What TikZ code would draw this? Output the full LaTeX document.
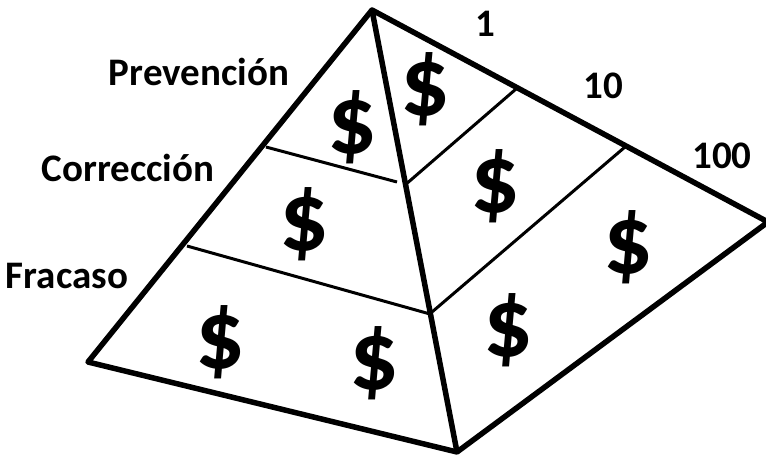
\documentclass[tikz,border=0pt]{standalone}
\usepackage{fontspec}
\setmainfont{Carlito}
\usetikzlibrary{positioning}
\tikzset{
  outline/.style={line width=5.5pt, line join=round},
  divider/.style={line width=3pt},
  lbl/.style={font=\fontsize{39}{39}\selectfont\bfseries},
  dollar/.style={font=\fontsize{98}{98}\selectfont\bfseries, inner sep=0pt}
}
\begin{document}
\begin{tikzpicture}[x=1pt, y=-1pt]
  \useasboundingbox (0,0) rectangle (766,458);
  % corners of the pyramid
  \coordinate (apex) at (372,10);
  \coordinate (left) at (88,362);
  \coordinate (bottom) at (457,452);
  \coordinate (right) at (768,222);
  % ends of the dividing lines
  \coordinate (l1a) at (266,147);
  \coordinate (l1b) at (397,182);
  \coordinate (l2a) at (187,246);
  \coordinate (l2b) at (430,314);
  \coordinate (r1a) at (405,185);
  \coordinate (r1b) at (516,89);
  \coordinate (r2a) at (432,312);
  \coordinate (r2b) at (625,147);
  \draw[outline] (apex) -- (left) -- (bottom) -- (right) -- cycle;
  \draw[outline] (apex) -- (bottom);
  \draw[divider] (l1a) -- (l1b);
  \draw[divider] (l2a) -- (l2b);
  \draw[divider] (r1a) -- (r1b);
  \draw[divider] (r2a) -- (r2b);
  % levels
  \node[lbl] (prev) at (199,72) {Prevención};
  \node[lbl] (corr) at (128,168) {Corrección};
  \node[lbl] (frac) at (67,276) {Fracaso};
  % costs
  \node[lbl] (one) at (485,24) {1};
  \node[lbl] (ten) at (603,86) {10};
  \node[lbl] (hundred) at (722,156) {100};
  % money
  \node[dollar] (d1) at (352,127) {\$};
  \node[dollar] (d2) at (425,89) {\$};
  \node[dollar] (d3) at (304,224) {\$};
  \node[dollar] (d4) at (495,186) {\$};
  \node[dollar] (d5) at (628,247) {\$};
  \node[dollar] (d6) at (220,342) {\$};
  \node[dollar] (d7) at (374,363) {\$};
  \node[dollar] (d8) at (508,330) {\$};
\end{tikzpicture}
\end{document}
